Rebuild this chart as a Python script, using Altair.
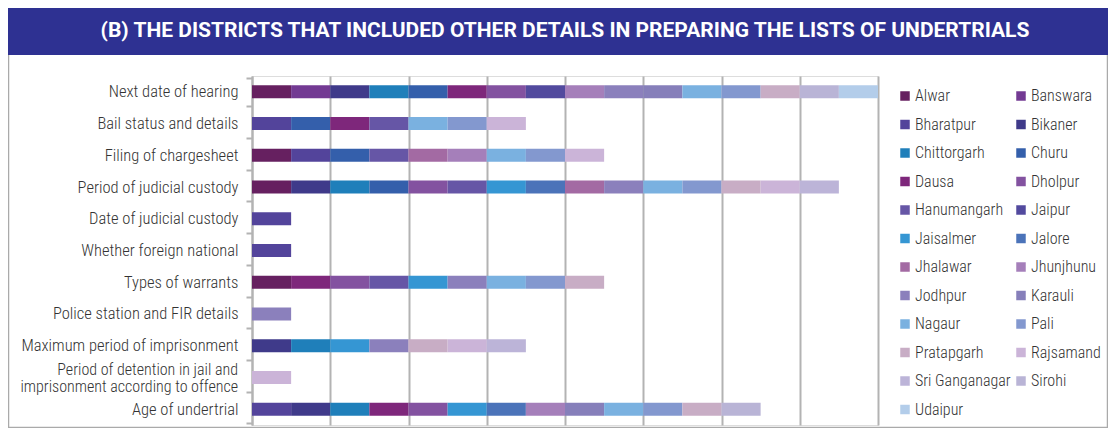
import altair as alt
import pandas as pd

districts = ["Alwar", "Banswara", "Bharatpur", "Bikaner", "Chittorgarh", "Churu",
             "Dausa", "Dholpur", "Hanumangarh", "Jaipur", "Jaisalmer", "Jalore",
             "Jhalawar", "Jhunjhunu", "Jodhpur", "Karauli", "Nagaur", "Pali",
             "Pratapgarh", "Rajsamand", "Sri Ganganagar", "Sirohi", "Udaipur"]
colors = ["#662060", "#733a93", "#53449b", "#3f3a8a", "#1f7fba", "#345fab",
          "#7e277b", "#8352a0", "#6656a6", "#524a9e", "#3596d3", "#4b73b9",
          "#a36aa3", "#a57fba", "#8b80bc", "#867fba", "#7ab1e0", "#8398cf",
          "#c8adc5", "#cbb4d8", "#bcb4d8", "#b9b4d6", "#b3cdea"]

categories = ["Next date of hearing", "Bail status and details", "Filing of chargesheet",
              "Period of judicial custody", "Date of judicial custody",
              "Whether foreign national", "Types of warrants",
              "Police station and FIR details", "Maximum period of imprisonment",
              "Period of detention in jail and|imprisonment according to offence",
              "Age of undertrial"]

included = [
    ["Alwar", "Banswara", "Bikaner", "Chittorgarh", "Churu", "Dausa", "Dholpur", "Jaipur",
     "Jhunjhunu", "Jodhpur", "Karauli", "Nagaur", "Pali", "Pratapgarh", "Sirohi", "Udaipur"],
    ["Bharatpur", "Churu", "Dausa", "Hanumangarh", "Nagaur", "Pali", "Rajsamand"],
    ["Alwar", "Bharatpur", "Churu", "Hanumangarh", "Jhalawar", "Jhunjhunu", "Nagaur",
     "Pali", "Rajsamand"],
    ["Alwar", "Bikaner", "Chittorgarh", "Churu", "Dholpur", "Hanumangarh", "Jaisalmer",
     "Jalore", "Jhalawar", "Jodhpur", "Nagaur", "Pali", "Pratapgarh", "Rajsamand",
     "Sri Ganganagar"],
    ["Bharatpur"],
    ["Bharatpur"],
    ["Alwar", "Dausa", "Dholpur", "Hanumangarh", "Jaisalmer", "Jodhpur", "Nagaur", "Pali",
     "Pratapgarh"],
    ["Jodhpur"],
    ["Bikaner", "Chittorgarh", "Jaisalmer", "Jodhpur", "Pratapgarh", "Rajsamand",
     "Sri Ganganagar"],
    ["Rajsamand"],
    ["Bharatpur", "Bikaner", "Chittorgarh", "Dausa", "Dholpur", "Jaisalmer", "Jalore",
     "Jhunjhunu", "Karauli", "Nagaur", "Pali", "Pratapgarh", "Sirohi"],
]

title_text = "(B) THE DISTRICTS THAT INCLUDED OTHER DETAILS IN PREPARING THE LISTS OF UNDERTRIALS"

rows = []
for cat, ds in zip(categories, included):
    for d in ds:
        rows.append({"detail": cat, "district": d, "idx": districts.index(d), "n": 1})
df = pd.DataFrame(rows)

multi = [c for c in categories if "|" in c]

FONT = "Roboto Condensed, Liberation Sans Narrow, DejaVu Sans Condensed, Roboto, sans-serif"
TFONT = "Roboto, sans-serif"
W, H = 626, 349

yaxis = alt.Axis(title=None,
                 labelExpr="indexof(datum.label, '|') >= 0 ? '' : datum.label",
                 labelFontSize=16.5, labelColor="#333333", labelFont=FONT,
                 labelFontWeight=300,
                 labelPadding=8, labelLimit=300,
                 domainColor="#b3b3b3", domainWidth=2, tickColor="#b3b3b3",
                 tickWidth=2, tickSize=6, tickBand="extent")

bars = alt.Chart(df).mark_bar(size=13).encode(
    x=alt.X("sum(n):Q", stack="zero",
            scale=alt.Scale(domain=[0, 16], nice=False),
            axis=alt.Axis(values=list(range(0, 17, 2)), labels=False, ticks=False,
                          domain=False, grid=True, gridColor="#b3b3b3", gridWidth=2,
                          title=None)),
    y=alt.Y("detail:N", sort=categories, axis=yaxis),
    color=alt.Color("district:N", scale=alt.Scale(domain=districts, range=colors),
                    legend=alt.Legend(title=None, orient="none", legendX=645, legendY=12,
                                      columns=2, direction="horizontal",
                                      symbolType="square", symbolSize=90,
                                      symbolStrokeWidth=0, labelFontSize=16,
                                      labelFontWeight=300,
                                      labelColor="#333333", labelFont=FONT,
                                      rowPadding=12.5, columnPadding=2, labelOffset=2,
                                      padding=0)),
    order=alt.Order("idx:Q"),
)

multi_lbl = alt.Chart(pd.DataFrame({"detail": multi})).mark_text(
    align="right", baseline="middle", lineBreak="|", lineHeight=17, dy=-7,
    fontSize=16, fontWeight=300, font=FONT, color="#333333", clip=False
).encode(x=alt.value(-14), y=alt.Y("detail:N", sort=categories, axis=yaxis),
         text="detail:N")

frame = alt.Chart(pd.DataFrame({"k": [0]})).mark_rect(
    fill=None, stroke="#aaaaaa", strokeWidth=1.5, clip=False
).encode(x=alt.value(-243.5), x2=alt.value(855.5), y=alt.value(-67.5), y2=alt.value(351.5))

banner = alt.Chart(pd.DataFrame({"k": [0]})).mark_rect(
    fill="#2e3192", clip=False
).encode(x=alt.value(-244), x2=alt.value(856), y=alt.value(-68), y2=alt.value(-21))

title = alt.Chart(pd.DataFrame({"t": [title_text]})).mark_text(
    color="white", fontSize=21, fontWeight="bold", font=TFONT, align="center",
    baseline="middle", clip=False
).encode(x=alt.value(313), y=alt.value(-45), text="t:N")

chart = alt.layer(frame, banner, title, bars, multi_lbl).properties(
    width=W, height=H,
    autosize=alt.AutoSizeParams(type="none"),
    padding={"left": 244, "top": 68, "right": 230, "bottom": 3},
).configure_view(stroke=None).configure(background="white")

chart.save("out.html", embed_options={"renderer": "svg", "actions": False})
